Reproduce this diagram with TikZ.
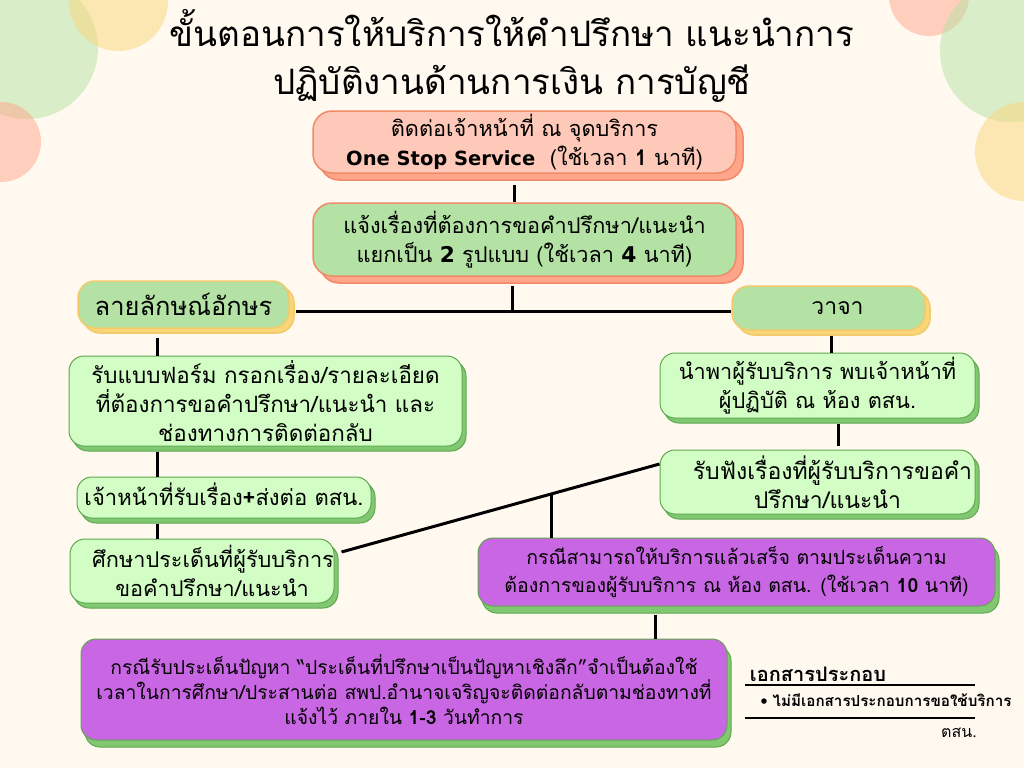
\documentclass[tikz,border=0pt]{standalone}
\usepackage{xcolor}
\usepackage{fontspec}
\usetikzlibrary{shadows}
\setmainfont[Script=Thai]{Loma}
\newfontfamily\latinfont{DejaVu Sans}
\newcommand{\latinbold}[1]{{\latinfont\bfseries #1}}
\definecolor{paper}{HTML}{FFF9F0}
\definecolor{peach}{HTML}{FFC9B9}
\definecolor{coral}{HTML}{FFA58A}
\definecolor{coralline}{HTML}{F08A68}
\definecolor{leaf}{HTML}{B4E2A4}
\definecolor{mint}{HTML}{D2FDC4}
\definecolor{moss}{HTML}{82C873}
\definecolor{mossline}{HTML}{5FA84F}
\definecolor{honey}{HTML}{FBD678}
\definecolor{honeyline}{HTML}{F2C96B}
\definecolor{violet}{HTML}{C966E3}
\tikzset{
  panel/.style={rounded corners=15pt, inner sep=0pt, align=center, line width=1pt, font=\fontsize{21.7}{29}\selectfont},
  coralbox/.style={panel, rounded corners=19pt, line width=1.5pt, draw=coralline, copy shadow={shadow xshift=7pt, shadow yshift=-7pt, fill=coral, draw=coralline}},
  honeybox/.style={panel, rounded corners=17pt, line width=1.5pt, fill=leaf, draw=honeyline, copy shadow={shadow xshift=5pt, shadow yshift=-5pt, fill=honey, draw=honeyline}},
  mossbox/.style={panel, fill=mint, draw=mossline, copy shadow={shadow xshift=4pt, shadow yshift=-5pt, fill=moss, draw=mossline}},
  violetbox/.style={panel, fill=violet, draw=mossline, copy shadow={shadow xshift=4pt, shadow yshift=-7pt, fill=moss, draw=mossline}},
  link/.style={line width=3pt, black},
  blob/.style={opacity=0.5},
}
\begin{document}
\begin{tikzpicture}[x=1pt, y=-1pt]
    \useasboundingbox[fill=paper] (0,0) rectangle (1024,768);
    % corners
    \fill[blob, fill=leaf] (27,48) circle (71);
    \fill[blob, fill=honey] (118.5,1.5) circle (49.5);
    \fill[blob, fill=coral] (1,142) circle (40);
    \fill[blob, fill=coral] (929,-4) circle (40);
    \fill[blob, fill=leaf] (1011,51) circle (71);
    \fill[blob, fill=honey] (1024.5,151.5) circle (49.5);

    \node (title) [align=center, font=\fontsize{35}{48}\selectfont] at (512,56) {ขั้นตอนการให้บริการให้คำปรึกษา แนะนำการ\\ปฏิบัติงานด้านการเงิน การบัญชี};

    \node (contact) [coralbox, fill=peach, minimum width=423pt, minimum height=62pt] at (524.5,142) {ติดต่อเจ้าหน้าที่ ณ จุดบริการ\\{\fontsize{19.5}{29}\selectfont\latinbold{One Stop Service}}\ \ (ใช้เวลา \textbf{1} นาที)};
    \node (request) [coralbox, fill=leaf, minimum width=423pt, minimum height=73pt, below of=contact, node distance=97.5pt] {แจ้งเรื่องที่ต้องการขอคำปรึกษา/แนะนำ\\แยกเป็น \latinbold{2} รูปแบบ (ใช้เวลา \latinbold{4} นาที)};
    \node (letter) [honeybox, minimum width=211pt, minimum height=47pt, font=\fontsize{25.5}{29}\selectfont] at (183.5,304.5) {ลายลักษณ์อักษร};
    \node (speech) [honeybox, minimum width=193pt, minimum height=44pt, font=\fontsize{23}{29}\selectfont] at (828.5,308) {\hspace*{18pt}วาจา};
    \node (form) [mossbox, minimum width=393pt, minimum height=90pt, font=\fontsize{22.4}{29}\selectfont] at (265.5,401) {รับแบบฟอร์ม กรอกเรื่อง/รายละเอียด\\ที่ต้องการขอคำปรึกษา/แนะนำ และ\\ช่องทางการติดต่อกลับ};
    \node (staff) [mossbox, minimum width=294pt, minimum height=41pt, font=\fontsize{22}{29}\selectfont] at (224,497.5) {\raisebox{6pt}{เจ้าหน้าที่รับเรื่อง\textbf{+}ส่งต่อ ตสน.}};
    \node (study) [mossbox, minimum width=264pt, minimum height=64pt] at (202,571) {\hspace*{22pt}ศึกษาประเด็นที่ผู้รับบริการ\\\hspace*{20pt}ขอคำปรึกษา/แนะนำ};
    \node (guide) [mossbox, minimum width=315pt, minimum height=65pt] at (817.5,385.5) {นำพาผู้รับบริการ พบเจ้าหน้าที่\\ผู้ปฏิบัติ ณ ห้อง ตสน.};
    \node (listen) [mossbox, minimum width=315pt, minimum height=64pt, below of=guide, node distance=96.5pt, font=\fontsize{23}{29}\selectfont] {\hspace*{30pt}รับฟังเรื่องที่ผู้รับบริการขอคำ\\\hspace*{20pt}ปรึกษา/แนะนำ};
    \node (finish) [violetbox, minimum width=517pt, minimum height=68pt, font=\fontsize{19.5}{28}\selectfont] at (736.5,572) {กรณีสามารถให้บริการแล้วเสร็จ ตามประเด็นความ\\ต้องการของผู้รับบริการ ณ ห้อง ตสน. (ใช้เวลา \textbf{10} นาที)};
    \node (deep) [violetbox, minimum width=646pt, minimum height=101pt, font=\fontsize{19.3}{25}\selectfont] at (404,689.5) {กรณีรับประเด็นปัญหา “ประเด็นที่ปรึกษาเป็นปัญหาเชิงลึก”จำเป็นต้องใช้\\เวลาในการศึกษา/ประสานต่อ สพป.อำนาจเจริญจะติดต่อกลับตามช่องทางที่\\แจ้งไว้ ภายใน \textbf{1-3} วันทำการ};

    \node (docs) [font=\bfseries\fontsize{20}{22}\selectfont] at (818,674) {เอกสารประกอบ};
    \node (docitem) [font=\bfseries\fontsize{15.2}{18}\selectfont] at (886,700) {\textbullet\ ไม่มีเอกสารประกอบการขอใช้บริการ};
    \node (owner) [font=\fontsize{16}{18}\selectfont] at (959,733) {ตสน.};
    \coordinate (ruleA) at (745,685);
    \coordinate (ruleB) at (975,685);
    \coordinate (ruleC) at (745,718);
    \coordinate (ruleD) at (975,718);
    \draw[link, line width=2.5pt] (ruleA) to (ruleB);
    \draw[link, line width=2.5pt] (ruleC) to (ruleD);

    \coordinate (fork) at (512,311);
    \coordinate (bend) at (551,494);
    \draw[link] ([xshift=-10.5pt, yshift=-11pt]contact.south) to ([xshift=-10.5pt]request.north);
    \draw[link] ([xshift=-12.5pt, yshift=-9pt]request.south) to (fork);
    \draw[link] ([xshift=6pt]letter.east |- fork) to (speech.west |- fork);
    \draw[link] ([xshift=-26.5pt, yshift=-9pt]letter.south) to ([xshift=-108.5pt]form.north);
    \draw[link] ([xshift=-108.5pt, yshift=-5pt]form.south) to ([xshift=-67pt]staff.north);
    \draw[link] ([xshift=-67pt, yshift=-5pt]staff.south) to ([xshift=-45pt]study.north);
    \draw[link] ([xshift=2.5pt, yshift=-5pt]speech.south) to ([xshift=13.5pt]guide.north);
    \draw[link] ([xshift=20.5pt, yshift=-5pt]guide.south) to ([xshift=20.5pt, yshift=4pt]listen.north);
    \draw[link] ([yshift=18pt]listen.west) to ([xshift=7pt, yshift=19pt]study.east);
    \draw[link] (bend) to (finish.north -| bend);
    \draw[link] ([xshift=-81.5pt, yshift=-8pt]finish.south) to ([xshift=251pt]deep.north);
\end{tikzpicture}
\end{document}
